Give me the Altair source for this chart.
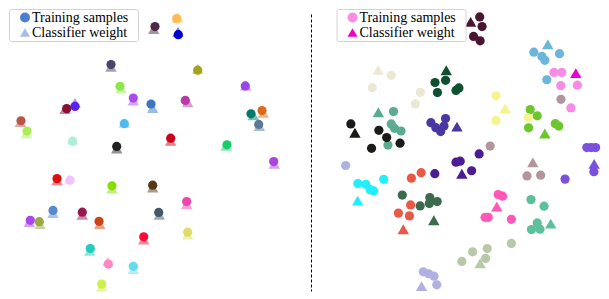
import altair as alt
import pandas as pd

# ---------------- left panel: one training sample + one classifier weight per class
left_colors = [
    "#4b2a48", "#ffbb55", "#0000cc", "#4a4468", "#a3a31c", "#8be84a", "#9b44e8", "#ab4ae8",
    "#b63aa8", "#3a78c4", "#8a1030", "#5a22ee", "#007a6a", "#dd6a1a", "#5a7898", "#bb5548",
    "#aaee55", "#4cbcee", "#aaf0d8", "#222222", "#cc0018", "#18cc6a", "#aa44dd", "#dd1010",
    "#f0c4fa", "#88dd00", "#553a15", "#ee44b0", "#5588d0", "#991850", "#455868", "#aa44ee",
    "#99aa44", "#cc4414", "#ff0a38", "#dede66", "#22ccbb", "#ff88c0", "#66ddee", "#ccf048",
]
left_sample_x = [154.0, 175.7, 177.3, 110.0, 196.7, 119.0, 244.3, 132.3, 184.3, 150.0, 65.7, 74.0,
                 250.0, 261.0, 257.7, 20.0, 26.0, 123.3, 71.7, 115.7, 169.7, 226.0, 272.7, 56.0,
                 69.0, 111.0, 151.7, 185.7, 52.0, 81.3, 157.7, 29.3, 38.3, 98.0, 142.7, 186.7,
                 89.3, 107.3, 132.3, 100.7]
left_sample_y = [25.7, 17.7, 34.0, 64.3, 70.0, 86.3, 86.0, 98.3, 100.7, 104.3, 109.0, 106.7,
                 114.3, 111.0, 125.0, 121.3, 131.7, 124.3, 142.3, 147.3, 139.0, 145.7, 162.7, 180.0,
                 181.7, 187.3, 186.7, 203.3, 212.3, 214.0, 214.3, 222.3, 223.7, 223.3, 239.0, 234.3,
                 251.0, 266.7, 269.0, 287.0]
left_weight_x = [152.7, 177.0, 177.0, 110.0, 196.7, 120.0, 244.7, 132.3, 186.7, 151.7, 64.0, 74.0,
                 252.3, 262.3, 258.3, 19.3, 25.3, 123.3, 71.0, 115.7, 169.7, 225.0, 273.3, 56.0,
                 68.3, 111.0, 151.7, 185.7, 52.0, 81.3, 158.3, 28.3, 39.0, 98.7, 142.7, 186.7,
                 88.7, 106.7, 132.3, 100.7]
left_weight_y = [28.3, 16.5, 31.0, 66.7, 68.5, 88.3, 85.5, 100.7, 102.7, 108.3, 109.5, 103.3,
                 115.7, 113.3, 126.7, 122.7, 134.0, 123.5, 140.5, 149.5, 141.7, 146.7, 165.0, 181.7,
                 180.0, 190.0, 189.0, 205.7, 215.0, 216.7, 216.7, 224.0, 226.0, 226.0, 241.7, 236.7,
                 253.3, 264.0, 271.7, 289.5]

# ---------------- right panel: several training samples per class
right_classes = list("ABCDEFGHIJKLMNOPQRST")
right_sample_colors = ["#4a1433", "#6bb6da", "#f88ae8", "#b3969c", "#ebe9d4", "#0e5030", "#f4f58e",
                       "#6cc72c", "#5aab91", "#1b1b18", "#4a37a2", "#4c1c94", "#7c50dc", "#b0b0e2",
                       "#22eeff", "#e85a46", "#3b6a4d", "#ff58b9", "#5cc19a", "#bac8aa"]
right_weight_colors = ["#4a1433", "#6bb6da", "#ee00cc", "#b3969c", "#ebe9d4", "#0e5030", "#f4f58e",
                       "#6cc72c", "#5aab91", "#1b1b18", "#4a37a2", "#4c1c94", "#7c50dc", "#b0b0e2",
                       "#22eeff", "#e85a46", "#3b6a4d", "#ff58b9", "#5cc19a", "#bac8aa"]

right_sample_cls = (["A"] * 4 + ["B"] * 5 + ["C"] * 5 + ["D"] * 4 + ["E"] * 4 + ["F"] * 5 +
                    ["H"] * 5 + ["G"] * 3 + ["I"] * 5 + ["J"] * 5 + ["K"] * 5 + ["L"] * 5 +
                    ["M"] * 5 + ["N"] * 5 + ["O"] * 5 + ["P"] * 5 + ["Q"] * 5 + ["R"] * 5 +
                    ["S"] * 5 + ["T"] * 5)
right_sample_x = [483.3, 485.7, 477.0, 483.7,
                  538.7, 547.0, 550.0, 565.0, 552.0,
                  559.3, 567.3, 566.3, 583.3, 576.7,
                  566.5, 494.0, 531.7, 545.7,
                  392.7, 373.3, 422.5, 417.3,
                  437.5, 448.3, 440.0, 459.0, 462.0,
                  535.0, 542.2, 533.3, 560.7, 564.3,
                  500.0, 500.0, 533.0,
                  395.0, 392.7, 396.0, 402.7, 389.3,
                  351.3, 380.0, 388.0, 401.7, 372.5,
                  433.3, 438.3, 443.3, 446.7, 448.3,
                  459.0, 463.3, 482.7, 475.0, 437.3,
                  593.0, 597.5, 602.0, 600.2, 570.7,
                  346.0, 425.5, 431.0, 436.5, 439.3,
                  358.5, 366.7, 371.0, 374.7, 385.0,
                  413.3, 423.3, 412.5, 400.0, 411.3,
                  404.0, 422.3, 432.2, 431.7, 439.7,
                  502.2, 506.7, 488.8, 492.0, 515.7,
                  535.8, 549.2, 536.3, 542.2, 545.0,
                  465.0, 476.0, 491.0, 489.3, 515.7]
right_sample_y = [16.0, 25.7, 35.8, 40.2,
                  51.7, 56.0, 60.0, 53.3, 79.7,
                  72.3, 72.3, 85.7, 85.2, 108.3,
                  99.5, 147.0, 177.3, 176.5,
                  75.2, 87.7, 92.5, 104.2,
                  82.5, 80.3, 92.7, 90.5, 88.0,
                  110.0, 116.3, 128.5, 124.3, 126.7,
                  96.0, 121.0, 118.3,
                  112.0, 124.5, 129.0, 131.7, 146.0,
                  124.5, 131.0, 138.3, 144.0, 149.3,
                  123.3, 128.3, 132.3, 126.7, 119.0,
                  163.3, 162.3, 155.0, 172.0, 175.0,
                  148.5, 148.5, 148.5, 173.0, 180.5,
                  166.7, 274.5, 276.5, 279.0, 287.7,
                  185.0, 185.8, 191.2, 192.5, 180.7,
                  179.5, 174.0, 206.7, 215.0, 217.8,
                  196.7, 207.7, 199.2, 205.3, 203.3,
                  196.2, 197.8, 219.3, 219.3, 221.3,
                  201.3, 208.0, 231.7, 225.0, 231.3,
                  264.0, 254.3, 251.0, 261.0, 245.7]

right_weight_cls = right_classes
right_weight_x = [474.0, 553.0, 581.7, 537.7, 379.3, 449.0, 509.3, 550.0, 379.5, 355.5,
                  460.0, 465.0, 600.5, 423.7, 358.3, 405.0, 436.3, 500.8, 556.0, 483.7]
right_weight_y = [21.0, 43.7, 73.0, 163.5, 69.7, 70.0, 108.7, 134.2, 112.7, 133.5,
                  127.3, 175.0, 165.0, 289.0, 202.3, 231.3, 222.2, 208.3, 225.7, 265.8]

kinds = ["Training samples", "Classifier weight"]
left_legend_colors = ["#4d7fd0", "#a6bbe7"]
right_legend_colors = ["#f78de6", "#ee00cc"]

# ---------------- data frames
left_cls = [f"L{i}" for i in range(len(left_colors))]
left_samples = pd.DataFrame({"cls": left_cls, "x": left_sample_x, "y": left_sample_y, "kind": kinds[0]})
left_weights = pd.DataFrame({"cls": left_cls, "x": left_weight_x, "y": left_weight_y, "kind": kinds[1]})
right_samples = pd.DataFrame({"cls": right_sample_cls, "x": right_sample_x, "y": right_sample_y, "kind": kinds[0]})
right_weights = pd.DataFrame({"cls": right_weight_cls, "x": right_weight_x, "y": right_weight_y, "kind": kinds[1]})

PLOT_H = 277
Y_DOMAIN = [13, 294]


def panel(samples, weights, cls_domain, sample_range, weight_range, weight_opacity,
          legend_range, xdom, width, legend_x, dashed):
    x = alt.X("x:Q", scale=alt.Scale(domain=xdom, nice=False, zero=False), axis=None)
    if dashed:
        yaxis = alt.Axis(domain=True, domainDash=[3, 2], domainColor="black", domainWidth=1,
                         ticks=False, labels=False, grid=False, title=None,
                         minExtent=0, maxExtent=0, offset=0)
    else:
        yaxis = None
    y = alt.Y("y:Q", scale=alt.Scale(domain=Y_DOMAIN, reverse=True, nice=False, zero=False),
              axis=yaxis)

    tri = alt.Chart(weights).mark_point(
        filled=True, shape="triangle-up", size=130, opacity=weight_opacity, strokeWidth=0
    ).encode(
        x=x, y=y,
        color=alt.Color("cls:N", scale=alt.Scale(domain=cls_domain, range=weight_range), legend=None),
    )
    circ = alt.Chart(samples).mark_point(
        filled=True, shape="circle", size=85, opacity=1, strokeWidth=0
    ).encode(
        x=x, y=y,
        color=alt.Color("cls:N", scale=alt.Scale(domain=cls_domain, range=sample_range), legend=None),
    )
    leg = alt.Legend(
        title=" ", titleOrient="right", titlePadding=8, titleFontSize=14,
        titleFont="Liberation Serif",
        orient="none", legendX=legend_x, legendY=-5,
        labelFont="Liberation Serif", labelFontSize=14, labelColor="black",
        fillColor="white", strokeColor="#d3d3d3", cornerRadius=2,
        padding=1.5, rowPadding=1, symbolOffset=7.5, labelOffset=0,
        symbolSize=100, symbolStrokeWidth=0, symbolOpacity=1,
    )
    carrier = alt.Chart(samples).transform_filter("false").mark_point(
        filled=True, size=100, opacity=1
    ).encode(
        x=x, y=y,
        color=alt.Color("kind:N", scale=alt.Scale(domain=kinds, range=legend_range), legend=leg),
        shape=alt.Shape("kind:N", scale=alt.Scale(domain=kinds, range=["circle", "triangle-up"]),
                        legend=leg),
    )
    return alt.layer(tri, circ, carrier).resolve_scale(
        color="independent", shape="independent"
    ).properties(width=width, height=PLOT_H)


left = panel(left_samples, left_weights, left_cls, left_colors, left_colors, 0.5,
             left_legend_colors, [8, 310], 302, 0, False)
right = panel(right_samples, right_weights, right_classes, right_sample_colors, right_weight_colors,
              1.0, right_legend_colors, [310.5, 607.5], 290, 25.5, True)

chart = alt.hconcat(left, right, spacing=0).resolve_scale(
    x="independent", y="independent", color="independent", shape="independent"
).resolve_legend(color="independent", shape="independent").properties(
    padding=0
).configure(font="Liberation Serif").configure_view(stroke=None)

chart.save("out.html", embed_options={"renderer": "svg", "actions": False})
